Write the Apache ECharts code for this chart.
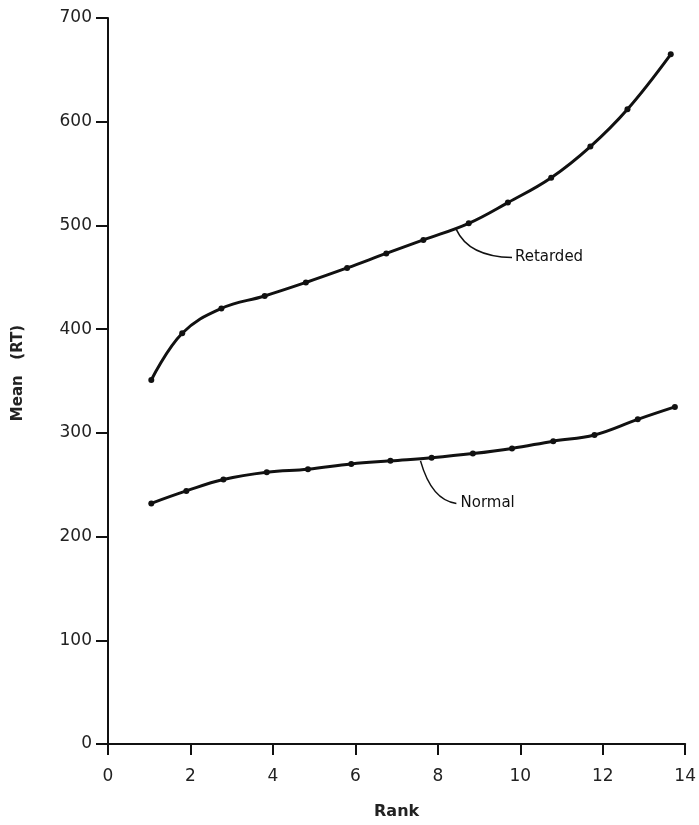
<!DOCTYPE html>
<html>
<head>
<meta charset="utf-8">
<script src="https://cdn.jsdelivr.net/npm/echarts@6/dist/echarts.min.js"></script>
<style>
html,body{margin:0;padding:0;background:#fff;}
#chart{width:699px;height:825px;}
</style>
</head>
<body>
<div id="chart"></div>
<script>
// Data
const rankRetarded = [1.05, 1.8, 2.75, 3.8, 4.8, 5.8, 6.75, 7.65, 8.75, 9.7, 10.75, 11.7, 12.6, 13.65];
const valuesRetarded = [351, 396, 420, 432, 445, 459, 473, 486, 502, 522, 546, 576, 612, 665];
const rankNormal = [1.05, 1.9, 2.8, 3.85, 4.85, 5.9, 6.85, 7.85, 8.85, 9.8, 10.8, 11.8, 12.85, 13.75];
const valuesNormal = [232, 244, 255, 262, 265, 270, 273, 276, 280, 285, 292, 298, 313, 325];
const xTicks = [0, 2, 4, 6, 8, 10, 12, 14];
const yTicks = [0, 100, 200, 300, 400, 500, 600, 700];
const seriesNames = ['Retarded', 'Normal'];

const FONT = 'DejaVu Sans';
const chart = echarts.init(document.getElementById('chart'));

const pairs = (xs, ys) => xs.map((x, i) => [x, ys[i]]);

const lineSeries = (name, xs, ys) => ({
  name: name,
  type: 'line',
  data: pairs(xs, ys),
  smooth: 0.4,
  symbol: 'circle',
  symbolSize: 6,
  lineStyle: { color: '#111', width: 3 },
  itemStyle: { color: '#111' },
  z: 3
});

const option = {
  backgroundColor: '#ffffff',
  animation: false,
  grid: { left: 108, right: 10, top: 18, bottom: 80, containLabel: false },
  xAxis: {
    type: 'value',
    min: xTicks[0], max: xTicks[xTicks.length - 1], interval: 2,
    name: 'Rank', nameLocation: 'middle', nameGap: 60,
    nameTextStyle: { fontFamily: FONT, fontSize: 16, color: '#222', fontWeight: 'bold' },
    axisLine: { show: true, lineStyle: { color: '#111', width: 2 } },
    axisTick: { show: true, length: 11, lineStyle: { color: '#111', width: 2 } },
    axisLabel: { fontFamily: FONT, fontSize: 17, color: '#222', margin: 24 },
    splitLine: { show: false }
  },
  yAxis: {
    type: 'value',
    min: yTicks[0], max: yTicks[yTicks.length - 1], interval: 100,
    name: 'Mean   (RT)', nameLocation: 'middle', nameGap: 82, nameRotate: 90,
    nameTextStyle: { fontFamily: FONT, fontSize: 15, color: '#222', fontWeight: 'bold', padding: [0, 0, 0, 16] },
    axisLine: { show: true, lineStyle: { color: '#111', width: 2 } },
    axisTick: { show: true, length: 12, lineStyle: { color: '#111', width: 2 } },
    axisLabel: { fontFamily: FONT, fontSize: 17, color: '#222', margin: 16 },
    splitLine: { show: false }
  },
  series: [
    lineSeries(seriesNames[0], rankRetarded, valuesRetarded),
    lineSeries(seriesNames[1], rankNormal, valuesNormal)
  ]
};
chart.setOption(option);

// Annotation leaders and labels placed in data coordinates
function px(x, y) { return chart.convertToPixel({ gridIndex: 0 }, [x, y]); }
function leader(start, ctrl, end) {
  const a = px(start[0], start[1]), c = px(ctrl[0], ctrl[1]), b = px(end[0], end[1]);
  return {
    type: 'bezierCurve',
    shape: { x1: a[0], y1: a[1], x2: b[0], y2: b[1], cpx1: c[0], cpy1: c[1] },
    style: { stroke: '#111', lineWidth: 1.5, fill: null },
    z: 5
  };
}
function label(text, at) {
  const p = px(at[0], at[1]);
  return {
    type: 'text', x: p[0], y: p[1],
    style: { text: text, fontFamily: FONT, fontSize: 15, fill: '#111', verticalAlign: 'middle' },
    z: 5
  };
}
chart.setOption({
  graphic: [
    leader([8.45, 496], [8.75, 470], [9.8, 469]),
    label(seriesNames[0], [9.87, 469]),
    leader([7.58, 273], [7.85, 235], [8.45, 232]),
    label(seriesNames[1], [8.55, 232])
  ]
});
</script>
</body>
</html>
